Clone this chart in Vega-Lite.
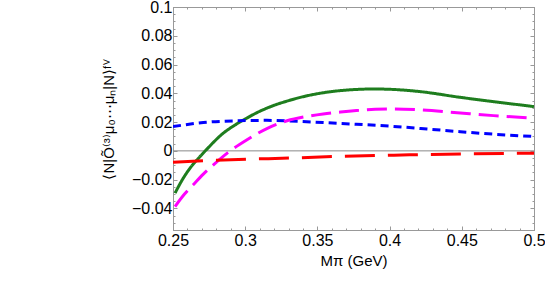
{
  "$schema": "https://vega.github.io/schema/vega-lite/v6.json",
  "width": 361,
  "height": 223,
  "autosize": "none",
  "padding": {"left": 173, "top": 7, "right": 11, "bottom": 61},
  "background": "white",
  "config": {
    "view": {"stroke": "#999", "strokeWidth": 1},
    "font": "Liberation Sans",
    "axis": {"grid": false, "domainColor": "#999", "tickColor": "#999", "labelColor": "black", "titleColor": "black", "labelFont": "Liberation Sans", "titleFont": "Liberation Sans", "labelFontSize": 16, "titleFontSize": 15, "titleFontWeight": "normal"}
  },
  "data": {"values": [
    {"c": "green", "x": 0.2514, "y": -0.0294},
    {"c": "green", "x": 0.2562, "y": -0.0205},
    {"c": "green", "x": 0.2618, "y": -0.012},
    {"c": "green", "x": 0.2673, "y": -0.0055},
    {"c": "green", "x": 0.273, "y": 0.0007},
    {"c": "green", "x": 0.2848, "y": 0.0123},
    {"c": "green", "x": 0.293, "y": 0.018},
    {"c": "green", "x": 0.301, "y": 0.0227},
    {"c": "green", "x": 0.309, "y": 0.027},
    {"c": "green", "x": 0.317, "y": 0.0305},
    {"c": "green", "x": 0.331, "y": 0.0352},
    {"c": "green", "x": 0.342, "y": 0.0381},
    {"c": "green", "x": 0.354, "y": 0.0404},
    {"c": "green", "x": 0.366, "y": 0.0419},
    {"c": "green", "x": 0.377, "y": 0.0427},
    {"c": "green", "x": 0.389, "y": 0.0430},
    {"c": "green", "x": 0.4, "y": 0.0428},
    {"c": "green", "x": 0.421, "y": 0.0412},
    {"c": "green", "x": 0.449, "y": 0.0372},
    {"c": "green", "x": 0.472, "y": 0.0342},
    {"c": "green", "x": 0.5, "y": 0.0308},
    {"c": "blue", "x": 0.25, "y": 0.0169},
    {"c": "blue", "x": 0.271, "y": 0.0197},
    {"c": "blue", "x": 0.294, "y": 0.0209},
    {"c": "blue", "x": 0.315, "y": 0.0212},
    {"c": "blue", "x": 0.331, "y": 0.0208},
    {"c": "blue", "x": 0.354, "y": 0.0197},
    {"c": "blue", "x": 0.377, "y": 0.0185},
    {"c": "blue", "x": 0.4, "y": 0.0172},
    {"c": "blue", "x": 0.426, "y": 0.0152},
    {"c": "blue", "x": 0.449, "y": 0.0133},
    {"c": "blue", "x": 0.472, "y": 0.0116},
    {"c": "blue", "x": 0.5, "y": 0.0100},
    {"c": "magenta", "x": 0.2514, "y": -0.0387},
    {"c": "magenta", "x": 0.258, "y": -0.030},
    {"c": "magenta", "x": 0.264, "y": -0.0236},
    {"c": "magenta", "x": 0.271, "y": -0.0162},
    {"c": "magenta", "x": 0.278, "y": -0.0097},
    {"c": "magenta", "x": 0.288, "y": -0.0012},
    {"c": "magenta", "x": 0.301, "y": 0.0076},
    {"c": "magenta", "x": 0.315, "y": 0.0155},
    {"c": "magenta", "x": 0.329, "y": 0.0209},
    {"c": "magenta", "x": 0.343, "y": 0.0240},
    {"c": "magenta", "x": 0.354, "y": 0.0257},
    {"c": "magenta", "x": 0.366, "y": 0.0270},
    {"c": "magenta", "x": 0.377, "y": 0.0280},
    {"c": "magenta", "x": 0.39, "y": 0.0289},
    {"c": "magenta", "x": 0.403, "y": 0.0291},
    {"c": "magenta", "x": 0.421, "y": 0.0285},
    {"c": "magenta", "x": 0.449, "y": 0.0263},
    {"c": "magenta", "x": 0.472, "y": 0.0245},
    {"c": "magenta", "x": 0.5, "y": 0.0227},
    {"c": "red", "x": 0.25, "y": -0.0079},
    {"c": "red", "x": 0.271, "y": -0.0069},
    {"c": "red", "x": 0.301, "y": -0.0058},
    {"c": "red", "x": 0.331, "y": -0.0050},
    {"c": "red", "x": 0.356, "y": -0.0041},
    {"c": "red", "x": 0.403, "y": -0.0030},
    {"c": "red", "x": 0.449, "y": -0.0021},
    {"c": "red", "x": 0.5, "y": -0.0016}
  ]},
  "layer": [
    {
      "data": {"values": [{"z": 0}]},
      "mark": {"type": "rule", "color": "#888", "strokeWidth": 1},
      "encoding": {"y": {"field": "z", "type": "quantitative", "axis": null}}
    },
    {
      "mark": {"type": "line", "strokeWidth": 3, "clip": true, "interpolate": "monotone"},
      "encoding": {
        "x": {"field": "x", "type": "quantitative", "scale": {"domain": [0.25, 0.5], "nice": false, "zero": false},
          "axis": {"title": "Mπ (GeV)", "values": [0.25,0.26,0.27,0.28,0.29,0.3,0.31,0.32,0.33,0.34,0.35,0.36,0.37,0.38,0.39,0.4,0.41,0.42,0.43,0.44,0.45,0.46,0.47,0.48,0.49,0.5],
            "labelExpr": "abs(datum.value*20 - round(datum.value*20)) < 0.000001 ? format(datum.value, '~g') : ''",
            "tickSize": {"condition": {"test": "abs(datum.value*20 - round(datum.value*20)) < 0.000001", "value": -4}, "value": -2},
            "labelPadding": 6, "titlePadding": 3, "labelFlush": false, "labelOverlap": false}},
        "y": {"field": "y", "type": "quantitative", "scale": {"domain": [-0.055, 0.1], "nice": false, "zero": false},
          "axis": {"title": "⟨N|Õ⁽³⁾μ₀⋯μₙ|N⟩ᶠⱽ", "values": [-0.055,-0.05,-0.045,-0.04,-0.035,-0.03,-0.025,-0.02,-0.015,-0.01,-0.005,0,0.005,0.01,0.015,0.02,0.025,0.03,0.035,0.04,0.045,0.05,0.055,0.06,0.065,0.07,0.075,0.08,0.085,0.09,0.095,0.1],
            "labelExpr": "abs(datum.value*50 - round(datum.value*50)) < 0.000001 ? format(datum.value, '~g') : ''",
            "tickSize": {"condition": {"test": "abs(datum.value*50 - round(datum.value*50)) < 0.000001", "value": -4}, "value": -2},
            "labelPadding": 5, "labelFlush": false, "labelOverlap": false,
            "titleX": -65, "titleY": 112, "titleAngle": -90, "titleAlign": "center", "titleBaseline": "middle"}},
        "color": {"field": "c", "type": "nominal", "legend": null,
          "scale": {"domain": ["green", "blue", "magenta", "red"], "range": ["#1e7d1e", "#0000ff", "#ff00ff", "#ff0000"]}},
        "strokeDash": {"field": "c", "type": "nominal", "legend": null,
          "scale": {"domain": ["green", "blue", "magenta", "red"], "range": [[1, 0], [8, 5], [20, 8], [30, 13]]}}
      }
    },
    {
      "mark": {"type": "point", "opacity": 0},
      "encoding": {
        "x": {"field": "x", "type": "quantitative",
          "axis": {"orient": "top", "title": null, "labels": false, "values": [0.25,0.26,0.27,0.28,0.29,0.3,0.31,0.32,0.33,0.34,0.35,0.36,0.37,0.38,0.39,0.4,0.41,0.42,0.43,0.44,0.45,0.46,0.47,0.48,0.49,0.5],
            "tickSize": {"condition": {"test": "abs(datum.value*20 - round(datum.value*20)) < 0.000001", "value": -4}, "value": -2}}},
        "y": {"field": "y", "type": "quantitative",
          "axis": {"orient": "right", "title": null, "labels": false, "values": [-0.055,-0.05,-0.045,-0.04,-0.035,-0.03,-0.025,-0.02,-0.015,-0.01,-0.005,0,0.005,0.01,0.015,0.02,0.025,0.03,0.035,0.04,0.045,0.05,0.055,0.06,0.065,0.07,0.075,0.08,0.085,0.09,0.095,0.1],
            "tickSize": {"condition": {"test": "abs(datum.value*50 - round(datum.value*50)) < 0.000001", "value": -4}, "value": -2}}}
      }
    }
  ],
  "resolve": {"axis": {"x": "independent", "y": "independent"}}
}
